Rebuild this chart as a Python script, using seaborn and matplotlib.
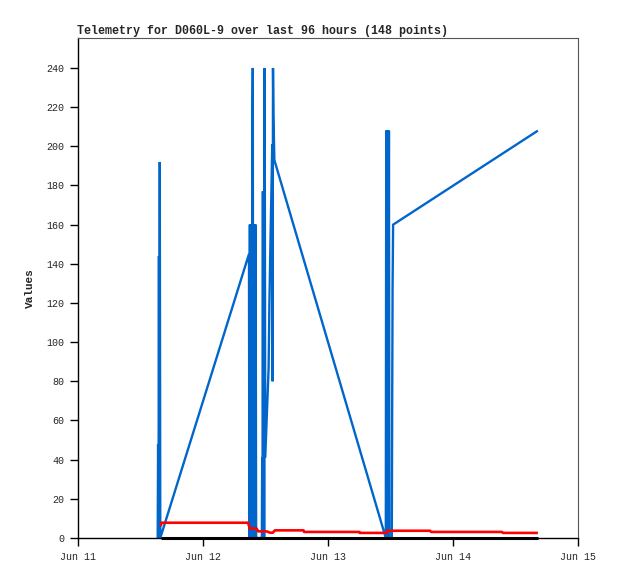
import pandas as pd
import matplotlib.pyplot as plt
import seaborn as sns

# Dados (horas desde Jun 11 00:00)
blue_hours = [15.30, 15.38, 15.46, 15.54, 15.62, 15.70, 15.80,
              32.83, 32.90, 33.00, 33.08, 33.16, 33.24, 33.32, 33.40, 33.48,
              33.56, 33.64, 33.72, 33.80, 33.90, 34.00, 34.10, 34.20, 34.30,
              35.30, 35.36, 35.42, 35.50, 35.58, 35.66, 35.74, 35.84, 35.95,
              36.60, 36.75, 36.90, 37.00, 37.10, 37.20, 37.30, 37.36, 37.44,
              37.52, 37.70,
              59.10, 59.18, 59.26, 59.34, 59.42, 59.50, 59.58, 59.70, 59.78,
              60.25, 60.32, 60.40, 60.50, 88.30]
blue_vals = [0, 48, 0, 144, 0, 192, 0,
             145, 0, 160, 0, 160, 0, 160, 0, 208,
             240, 0, 160, 0, 160, 0, 160, 0, 0,
             0, 41, 0, 177, 0, 177, 0, 240, 41,
             87, 120, 143, 158, 172, 187, 201, 80, 240,
             217, 193,
             0, 208, 0, 208, 0, 208, 0, 208, 0,
             0, 64, 128, 160, 208]

red_hours = [15.90, 16.00, 32.64, 33.00, 34.30, 34.60, 36.20, 36.90, 37.40,
             37.80, 43.30, 43.40, 54.00, 54.10, 59.30, 59.40, 67.60, 67.80,
             81.40, 81.60, 88.30]
red_vals = [6.0, 7.8, 7.8, 4.8, 4.8, 3.4, 3.4, 2.7, 2.7,
            3.9, 3.9, 3.1, 3.1, 2.6, 2.6, 3.7, 3.7, 3.1,
            3.1, 2.6, 2.6]

black_hours = red_hours
black_vals = [0] * len(red_hours)

x_ticks = [0, 24, 48, 72, 96]
x_labels = ["Jun 11", "Jun 12", "Jun 13", "Jun 14", "Jun 15"]
y_ticks = list(range(0, 241, 20))

sns.set_style("white")
plt.rcParams['font.family'] = ['Liberation Mono', 'DejaVu Sans Mono']

fig = plt.figure(figsize=(6.18, 5.79), dpi=100)
ax = fig.add_axes([78 / 618, 41 / 579, 500 / 618, 500 / 579])

df_blue = pd.DataFrame({'t': blue_hours, 'v': blue_vals})
df_red = pd.DataFrame({'t': red_hours, 'v': red_vals})
df_black = pd.DataFrame({'t': black_hours, 'v': black_vals})

sns.lineplot(data=df_blue, x='t', y='v', ax=ax, color='#0066CC', lw=1.7,
             sort=False, estimator=None, solid_capstyle='butt',
             solid_joinstyle='miter')
sns.lineplot(data=df_red, x='t', y='v', ax=ax, color='#FF0000', lw=1.9,
             sort=False, estimator=None, solid_capstyle='butt')
sns.lineplot(data=df_black, x='t', y='v', ax=ax, color='black', lw=2.2,
             sort=False, estimator=None, clip_on=False, solid_capstyle='butt')

ax.set_xlim(0, 96)
ax.set_ylim(0, 255.3)
ax.set_xticks(x_ticks)
ax.set_xticklabels(x_labels)
ax.set_yticks(y_ticks)
ax.tick_params(axis='both', direction='out', length=6, width=1, color='black',
               labelsize=7.2, pad=4, left=True, bottom=True)
ax.set_xlabel("")
ax.set_ylabel("Values", fontsize=8, fontweight='bold', labelpad=8)
ax.set_title("Telemetry for D060L-9 over last 96 hours (148 points)",
             loc='left', fontsize=8.4, fontweight='bold', pad=3, x=-0.002)

for side in ['left', 'bottom']:
    ax.spines[side].set_color('black')
    ax.spines[side].set_linewidth(1)
for side in ['top', 'right']:
    ax.spines[side].set_color('#555555')
    ax.spines[side].set_linewidth(0.8)

fig.savefig("out.png", dpi=100)
